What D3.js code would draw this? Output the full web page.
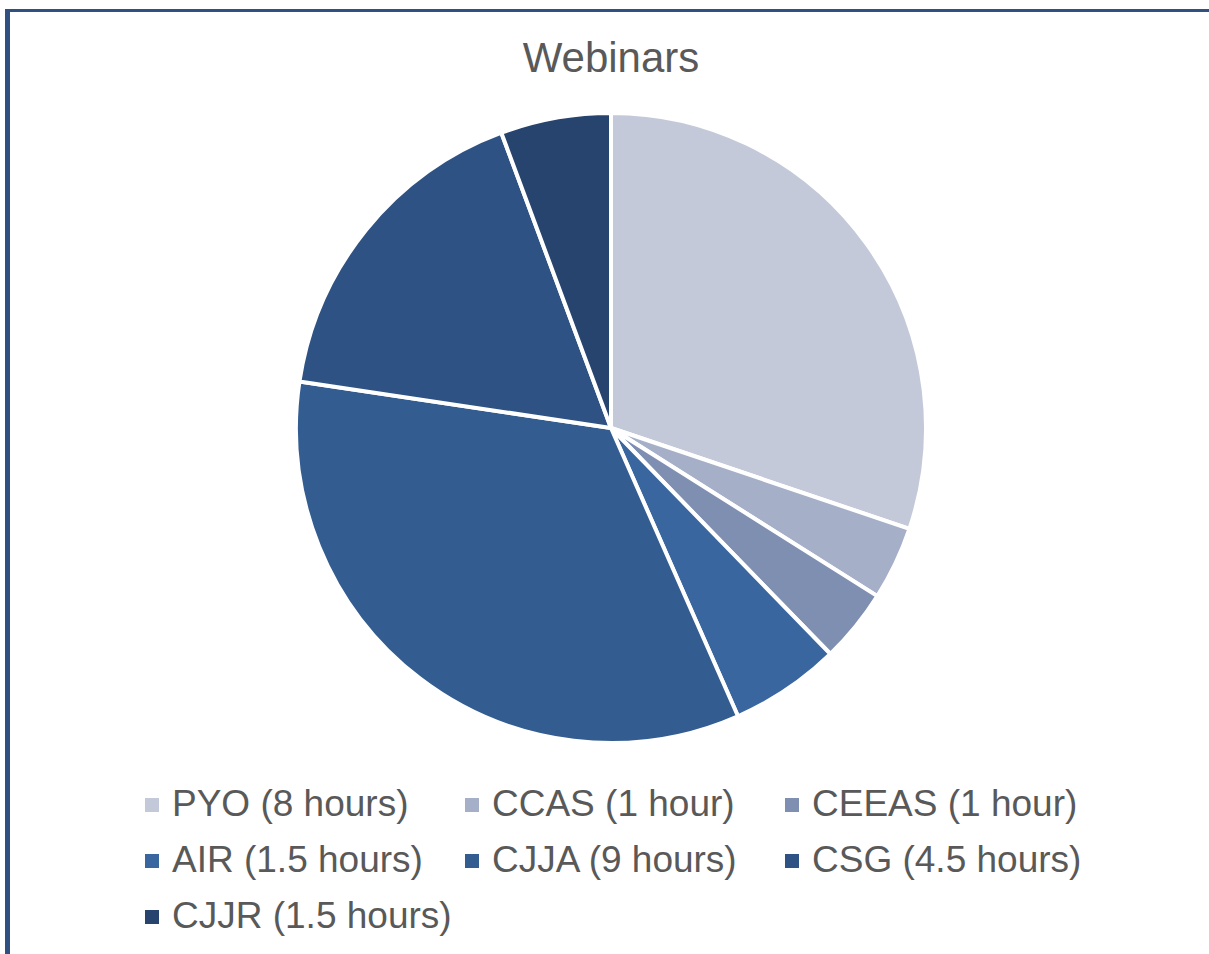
<!DOCTYPE html>
<html>
<head>
<meta charset="utf-8">
<script src="https://cdn.jsdelivr.net/npm/d3@7"></script>
<style>
  body { margin: 0; background: #fff; overflow: hidden; }
  svg { display: block; font-family: "Liberation Sans", Arial, sans-serif; }
</style>
</head>
<body>
<div id="chart"></div>
<script>
const names = ["PYO (8 hours)", "CCAS (1 hour)", "CEEAS (1 hour)", "AIR (1.5 hours)", "CJJA (9 hours)", "CSG (4.5 hours)", "CJJR (1.5 hours)"];
const hours = [8, 1, 1, 1.5, 9, 4.5, 1.5];
const colors = ["#c3c9d9", "#a5afc8", "#7f8fb2", "#3a66a0", "#335c90", "#2e5283", "#27446f"];

const width = 1209, height = 954;
const cx = 611, cy = 428, radius = 315;

const svg = d3.select('#chart').append('svg')
    .attr('width', width)
    .attr('height', height);

// frame: only the left and top edges show
svg.append('line')
    .attr('x1', 7.5).attr('x2', 7.5)
    .attr('y1', 9).attr('y2', height)
    .attr('stroke', '#2f5081')
    .attr('stroke-width', 5);
svg.append('line')
    .attr('x1', 5).attr('x2', width)
    .attr('y1', 10.5).attr('y2', 10.5)
    .attr('stroke', '#2f5081')
    .attr('stroke-width', 3);

svg.append('text')
    .attr('x', cx).attr('y', 72)
    .attr('text-anchor', 'middle')
    .attr('font-size', 42)
    .attr('fill', '#595959')
    .text('Webinars');

const data = names.map((n, i) => ({name: n, value: hours[i], color: colors[i]}));

const pie = d3.pie().value(d => d.value).sort(null);
const arc = d3.arc().innerRadius(0).outerRadius(radius);

svg.append('g')
    .attr('transform', 'translate(' + cx + ',' + cy + ')')
    .selectAll('path')
    .data(pie(data))
    .enter()
    .append('path')
    .attr('d', arc)
    .attr('fill', d => d.data.color)
    .attr('stroke', '#fff')
    .attr('stroke-width', 4)
    .attr('stroke-linejoin', 'round');

// legend, 3 per row
const item = svg.append('g').selectAll('g')
    .data(data)
    .enter()
    .append('g')
    .attr('transform', (d, i) => 'translate(' + (145 + (i % 3) * 320) + ',' + (816 + Math.floor(i / 3) * 56) + ')');

item.append('rect')
    .attr('x', 0).attr('y', -18)
    .attr('width', 14).attr('height', 14)
    .attr('fill', d => d.color);

item.append('text')
    .attr('x', 27).attr('y', 0)
    .attr('font-size', 37)
    .attr('fill', '#595959')
    .text(d => d.name);
</script>
</body>
</html>
